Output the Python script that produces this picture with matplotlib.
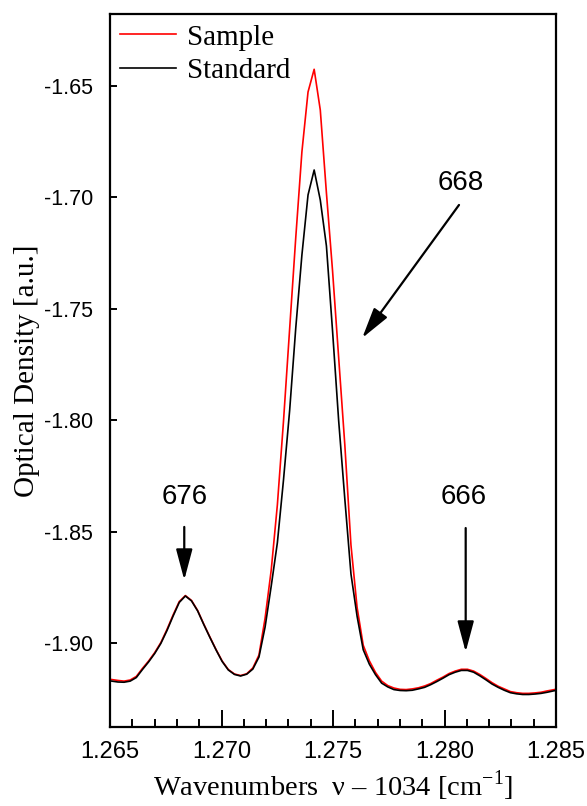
import numpy as np
import matplotlib
matplotlib.use("Agg")
import matplotlib.pyplot as plt
from matplotlib.ticker import MultipleLocator, FormatStrFormatter

plt.rcParams["axes.unicode_minus"] = False
serif = "Liberation Serif"
plt.rcParams["mathtext.fontset"] = "custom"
plt.rcParams["mathtext.rm"] = serif

# wavenumber grid (offset from 1034 cm-1)
wn_start = 1.26508
wn_step = 0.000275
wavenumbers = np.round(wn_start + wn_step * np.arange(74), 6)

sample = [
    -1.9164, -1.9168, -1.9171, -1.9166, -1.9150, -1.9114, -1.9081, -1.9043,
    -1.8998, -1.8939, -1.8874, -1.8814, -1.8787, -1.8809, -1.8854, -1.8915,
    -1.8973, -1.9029, -1.9081, -1.9119, -1.9139, -1.9146, -1.9138, -1.9112,
    -1.9054, -1.8888, -1.8672, -1.8380, -1.8004, -1.7591, -1.7180, -1.6796,
    -1.6527, -1.6425, -1.6608, -1.6980, -1.7330, -1.7721, -1.8111, -1.8560,
    -1.8840, -1.9010, -1.9080, -1.9132, -1.9171, -1.9191, -1.9202, -1.9208,
    -1.9209, -1.9206, -1.9201, -1.9193, -1.9182, -1.9167, -1.9153, -1.9137,
    -1.9126, -1.9118, -1.9118, -1.9126, -1.9141, -1.9159, -1.9178, -1.9194,
    -1.9206, -1.9218, -1.9223, -1.9226, -1.9226, -1.9224, -1.9221, -1.9215,
    -1.9210, -1.9204,
]

standard = [
    -1.9171, -1.9175, -1.9176, -1.9171, -1.9155, -1.9119, -1.9085, -1.9047,
    -1.9002, -1.8944, -1.8879, -1.8818, -1.8789, -1.8811, -1.8856, -1.8917,
    -1.8975, -1.9031, -1.9083, -1.9121, -1.9141, -1.9148, -1.9140, -1.9117,
    -1.9063, -1.8928, -1.8744, -1.8550, -1.8268, -1.7957, -1.7586, -1.7259,
    -1.6989, -1.6877, -1.7012, -1.7218, -1.7600, -1.8004, -1.8354, -1.8690,
    -1.8880, -1.9030, -1.9095, -1.9142, -1.9180, -1.9197, -1.9209, -1.9213,
    -1.9214, -1.9212, -1.9206, -1.9199, -1.9187, -1.9173, -1.9158, -1.9142,
    -1.9131, -1.9123, -1.9123, -1.9131, -1.9147, -1.9165, -1.9184, -1.9199,
    -1.9212, -1.9223, -1.9228, -1.9231, -1.9231, -1.9229, -1.9226, -1.9221,
    -1.9215, -1.9210,
]

# band labels: text, text position, arrow tail, arrow tip
bands = ["676", "668", "666"]
label_xy = [(1.26833, -1.8345), (1.28072, -1.6935), (1.28086, -1.8345)]
tail_xy = [(1.26833, -1.8479), (1.28065, -1.7034), (1.28095, -1.8484)]
tip_xy = [(1.26833, -1.8717), (1.27631, -1.7631), (1.28095, -1.9040)]

fig = plt.figure(figsize=(5.87, 8.06), dpi=100)
ax = fig.add_axes([0.1874, 0.098, 0.7598, 0.8846])

ax.plot(wavenumbers, sample, color="#ff0000", lw=1.2, label="Sample")
ax.plot(wavenumbers, standard, color="black", lw=1.2, label="Standard")

ax.set_xlim(1.265, 1.285)
ax.set_ylim(-1.9377, -1.6177)

ax.xaxis.set_major_locator(MultipleLocator(0.005))
ax.xaxis.set_minor_locator(MultipleLocator(0.001))
ax.xaxis.set_major_formatter(FormatStrFormatter("%.3f"))
ax.yaxis.set_major_locator(MultipleLocator(0.05))
ax.yaxis.set_major_formatter(FormatStrFormatter("%.2f"))

ax.tick_params(axis="x", which="major", direction="in", length=12, width=1.4,
               labelsize=17, pad=10)
ax.tick_params(axis="x", which="minor", direction="in", length=6, width=1.4)
ax.tick_params(axis="y", which="major", direction="in", length=5, width=1.4,
               labelsize=15.5, pad=12)
for lab in ax.get_xticklabels() + ax.get_yticklabels():
    lab.set_family("Liberation Sans")
for s in ax.spines.values():
    s.set_linewidth(1.6)

ax.set_xlabel("Wavenumbers  \u03bd \u2013 1034 [cm$^{-1}$]", family=serif,
              fontsize=20.5, labelpad=4)
ax.set_ylabel("Optical Density [a.u.]", family=serif, fontsize=21, labelpad=3)

leg = ax.legend(loc="upper left", frameon=False, handlelength=1.9,
                handletextpad=0.4, labelspacing=0.25, borderaxespad=0.0,
                borderpad=0.35, prop={"family": serif, "size": 21})

for name, lxy, t0, t1 in zip(bands, label_xy, tail_xy, tip_xy):
    ax.text(lxy[0], lxy[1], name, ha="center", va="center", fontsize=20,
            family="Liberation Sans")
    ax.annotate("", xy=t1, xytext=t0,
                arrowprops=dict(arrowstyle="-|>,head_length=1.05,head_width=0.28",
                                mutation_scale=18, color="black", lw=1.6,
                                shrinkA=0, shrinkB=0))

fig.savefig("out.png", dpi=100)
